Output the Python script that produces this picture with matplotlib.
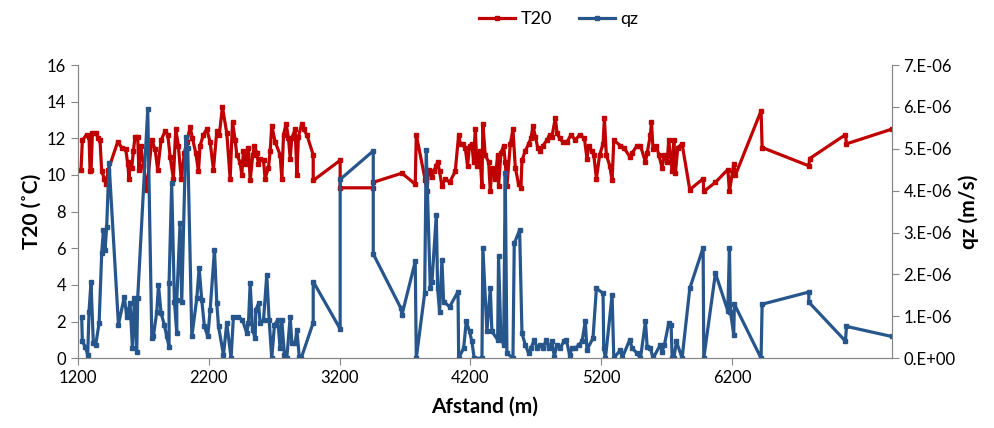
import matplotlib.pyplot as plt
import numpy as np
from matplotlib.ticker import FuncFormatter

# distance (m) and temperature at 20 m (deg C)
x_t20 = [1223, 1233, 1266, 1284, 1292, 1300, 1310, 1335, 1356, 1368, 1381, 1401, 1414, 1432,
         1503, 1534, 1565, 1580, 1590, 1598, 1611, 1623, 1636, 1656, 1665, 1680, 1700, 1725,
         1764, 1789, 1809, 1835, 1866, 1886, 1904, 1929, 1947, 1967, 1988, 2013, 2031, 2057,
         2075, 2100, 2121, 2133, 2159, 2184, 2210, 2235, 2261, 2280, 2304, 2337, 2363, 2381,
         2401, 2414, 2439, 2452, 2465, 2485, 2503, 2516, 2536, 2549, 2567, 2579, 2592, 2618,
         2630, 2656, 2669, 2681, 2707, 2745, 2758, 2771, 2791, 2809, 2822, 2834, 2860, 2873,
         2885, 2911, 2924, 2949, 2998, 2998, 3204, 3204, 3457, 3457, 3676, 3778, 3786, 3855,
         3868, 3880, 3906, 3918, 3939, 3949, 3964, 3982, 4008, 4041, 4084, 4110, 4122, 4143,
         4160, 4178, 4193, 4211, 4224, 4237, 4250, 4270, 4288, 4295, 4313, 4339, 4352, 4364,
         4390, 4408, 4415, 4433, 4454, 4466, 4479, 4505, 4525, 4543, 4568, 4586, 4594, 4619,
         4645, 4663, 4678, 4696, 4714, 4734, 4754, 4785, 4805, 4823, 4849, 4862, 4882, 4907,
         4938, 4969, 5002, 5035, 5071, 5091, 5104, 5129, 5143, 5163, 5188, 5214, 5224, 5239,
         5265, 5283, 5296, 5347, 5372, 5418, 5436, 5474, 5500, 5538, 5551, 5576, 5584, 5596,
         5622, 5640, 5665, 5683, 5704, 5716, 5742, 5755, 5767, 5785, 5818, 5877, 5979, 5984,
         6073, 6168, 6180, 6213, 6226, 6422, 6430, 6787, 6794, 7067, 7075, 7420]
t20 = [10.3, 11.9, 12.2, 12.1, 10.2, 10.3, 12.3, 12.3, 12.0, 11.9, 10.2, 9.8, 9.5, 10.3,
       11.8, 11.5, 11.4, 10.6, 9.8, 10.7, 10.4, 11.3, 12.1, 12.1, 10.3, 11.6, 10.5, 9.2,
       11.9, 11.4, 10.3, 11.9, 12.4, 12.2, 11.0, 9.8, 12.5, 11.6, 9.8, 11.2, 11.8, 12.6,
       12.0, 11.2, 10.2, 11.6, 12.2, 12.5, 11.8, 10.3, 12.4, 12.2, 13.7, 12.3, 9.8, 12.9,
       11.9, 11.1, 10.7, 10.0, 11.3, 10.6, 11.5, 9.7, 11.1, 11.6, 11.2, 10.6, 10.9, 10.8,
       9.8, 10.4, 11.3, 12.7, 11.8, 11.1, 9.8, 12.2, 12.8, 12.0, 10.9, 12.0, 12.5, 10.0,
       12.1, 12.8, 12.5, 12.2, 11.1, 9.7, 10.8, 9.3, 9.3, 9.6, 10.1, 9.5, 12.2, 9.7,
       9.1, 10.3, 9.9, 10.2, 10.5, 10.7, 10.2, 9.4, 9.8, 9.6, 10.2, 12.2, 11.7, 11.7,
       11.5, 10.5, 11.6, 11.7, 10.7, 12.5, 10.5, 11.3, 9.4, 12.8, 11.1, 10.7, 9.1, 10.4,
       9.8, 11.1, 9.4, 11.2, 11.6, 10.7, 9.4, 11.7, 12.5, 10.4, 9.5, 9.3, 10.8, 11.3,
       11.7, 12.0, 12.7, 12.1, 11.5, 11.3, 11.6, 11.9, 12.2, 12.1, 13.1, 12.3, 12.0, 11.8,
       11.8, 12.2, 11.9, 12.2, 12.0, 10.9, 11.6, 11.3, 11.1, 9.8, 11.1, 11.7, 13.1, 11.1,
       10.5, 9.7, 11.9, 11.6, 11.5, 11.0, 11.2, 11.6, 11.6, 10.7, 11.2, 12.2, 12.9, 11.4,
       11.6, 11.1, 10.4, 11.1, 10.7, 11.9, 10.2, 11.9, 10.1, 11.5, 11.7, 9.2, 9.8, 9.1,
       9.6, 10.3, 9.1, 10.6, 10.0, 13.5, 11.5, 10.5, 10.9, 12.2, 11.7, 12.5]

# distance (m) and flux qz (in 1E-06 m/s)
x_qz = [1228, 1233, 1254, 1274, 1284, 1299, 1317, 1335, 1361, 1381, 1394, 1407, 1419, 1437,
        1509, 1554, 1572, 1598, 1616, 1631, 1649, 1656, 1733, 1764, 1776, 1802, 1815, 1835,
        1860, 1878, 1896, 1896, 1916, 1937, 1955, 1955, 1980, 1993, 2024, 2039, 2070, 2108,
        2126, 2146, 2166, 2192, 2210, 2243, 2261, 2274, 2312, 2337, 2370, 2388, 2426, 2457,
        2490, 2503, 2516, 2534, 2554, 2559, 2580, 2592, 2618, 2643, 2661, 2681, 2702, 2727,
        2745, 2758, 2778, 2796, 2822, 2835, 2860, 2873, 2891, 2906, 2998, 2998, 3204, 3204,
        3457, 3457, 3669, 3676, 3778, 3786, 3850, 3862, 3893, 3906, 3939, 3949, 3964, 3982,
        3995, 4041, 4105, 4110, 4148, 4168, 4193, 4211, 4229, 4288, 4295, 4326, 4352, 4364,
        4408, 4415, 4433, 4454, 4466, 4479, 4525, 4535, 4576, 4594, 4619, 4645, 4663, 4688,
        4709, 4729, 4754, 4780, 4798, 4823, 4841, 4862, 4887, 4913, 4933, 4958, 4976, 5002,
        5027, 5053, 5078, 5091, 5137, 5163, 5214, 5219, 5232, 5283, 5296, 5347, 5359, 5418,
        5436, 5474, 5500, 5538, 5551, 5576, 5596, 5652, 5665, 5683, 5716, 5734, 5742, 5755,
        5775, 5818, 5877, 5979, 5984, 6073, 6168, 6180, 6188, 6213, 6218, 6422, 6430, 6787,
        6787, 7067, 7075, 7420]
qz_e6 = [0.99, 0.40, 0.28, 0.08, 1.11, 1.81, 0.36, 0.32, 0.84, 2.51, 3.06, 2.59, 3.14, 4.67,
         0.80, 1.47, 0.99, 1.31, 0.24, 1.43, 0.16, 1.43, 5.94, 0.48, 0.52, 1.11, 1.75, 1.07,
         0.80, 0.52, 0.28, 1.79, 4.18, 1.35, 0.60, 1.39, 3.22, 1.35, 5.29, 5.01, 0.52, 1.43,
         2.15, 1.39, 0.76, 0.52, 1.15, 2.59, 1.31, 0.76, 0.08, 0.84, 0.00, 0.99, 0.99, 0.91,
         0.60, 0.84, 1.79, 0.68, 0.48, 1.15, 1.31, 0.84, 0.91, 1.99, 0.91, 0.00, 0.80, 0.91,
         0.24, 0.91, 0.08, 0.00, 0.99, 0.36, 0.36, 0.68, 0.04, 0.00, 0.85, 1.83, 0.70, 4.27,
         4.95, 2.49, 1.19, 1.03, 2.31, 0.00, 1.55, 4.97, 1.67, 1.83, 3.42, 1.67, 1.11, 2.35,
         1.35, 1.23, 1.59, 0.00, 0.24, 0.88, 0.64, 0.40, 0.00, 0.00, 2.64, 0.64, 1.67, 0.64,
         0.44, 2.43, 0.48, 0.32, 4.42, 0.12, 0.00, 2.74, 3.06, 0.60, 0.32, 0.12, 0.24, 0.44,
         0.24, 0.32, 0.24, 0.44, 0.24, 0.40, 0.04, 0.32, 0.24, 0.40, 0.44, 0.08, 0.24, 0.24,
         0.32, 0.40, 0.88, 0.20, 0.48, 1.67, 1.55, 0.24, 0.00, 1.51, 0.00, 0.20, 0.00, 0.44,
         0.24, 0.12, 0.00, 0.88, 0.28, 0.24, 0.00, 0.32, 0.16, 0.32, 0.84, 0.80, 0.00, 0.00,
         0.40, 0.00, 1.67, 2.64, 0.00, 2.03, 1.13, 2.64, 1.11, 0.56, 1.29, 0.00, 1.29, 1.58,
         1.34, 0.41, 0.76, 0.52]
qz = np.array(qz_e6) * 1e-6

x_ticks = [1200, 2200, 3200, 4200, 5200, 6200]

red = '#C00000'
blue = '#26568C'
grey = '#868686'

plt.rcParams['font.family'] = ['Lato', 'DejaVu Sans']

fig = plt.figure(figsize=(9.94, 4.28), dpi=100)
ax = fig.add_axes([0.0785, 0.163, 0.8185, 0.685])
ax2 = ax.twinx()

l1, = ax.plot(x_t20, t20, color=red, lw=2.3, marker='s', ms=3.5, label='T20')
l2, = ax2.plot(x_qz, qz, color=blue, lw=2.3, marker='s', ms=3.5, label='qz')

ax.set_xlim(1200, 7420)
ax.set_ylim(0, 16)
ax.set_yticks(range(0, 17, 2))
ax.set_xticks(x_ticks)
ax2.set_ylim(0, 7e-6)
ax2.set_yticks(np.arange(0, 8) * 1e-6)
ax2.yaxis.set_major_formatter(FuncFormatter(lambda v, p: '%d.E%+03d' % (round(v * 1e6), -6) if v > 0 else '0.E+00'))

for a in (ax, ax2):
    a.spines['top'].set_visible(False)
    for s in ('left', 'right', 'bottom'):
        a.spines[s].set_color(grey)
    a.tick_params(colors=grey, labelcolor='black', labelsize=12, length=5)

ax.set_xlabel('Afstand (m)', fontsize=15, fontweight='bold', labelpad=8)
ax.set_ylabel('T20 (˚C)', fontsize=15, fontweight='bold', labelpad=4)
ax2.set_ylabel('qz (m/s)', fontsize=15, fontweight='bold', labelpad=2)

fig.legend(handles=[l1, l2], loc='center', bbox_to_anchor=(0.562, 0.955), ncol=2,
           frameon=False, fontsize=13, handlelength=2.0, columnspacing=1.5, handletextpad=0.3)

fig.savefig('out.png', dpi=100)
